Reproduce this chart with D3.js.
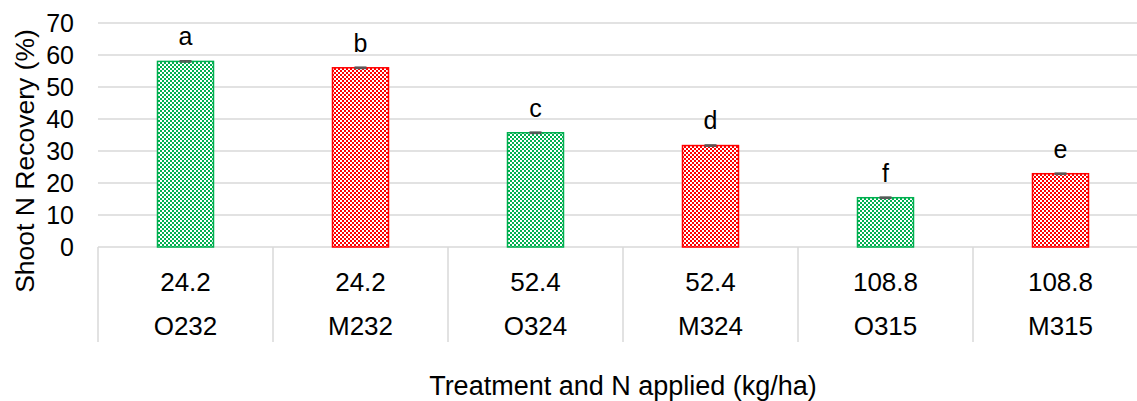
<!DOCTYPE html>
<html><head><meta charset="utf-8">
<script src="https://cdn.jsdelivr.net/npm/d3@7"></script>
<style>html,body{margin:0;padding:0;background:#fff;overflow:hidden}</style>
</head><body>
<script>
const treatments = ["O232","M232","O324","M324","O315","M315"];
const nApplied = ["24.2","24.2","52.4","52.4","108.8","108.8"];
const recovery = [58.0, 56.0, 35.7, 31.7, 15.4, 22.9];
const stdErr = [0.2, 0.2, 0.2, 0.2, 0.2, 0.2];
const letters = ["a","b","c","d","f","e"];
const barColors = ["#00B050","#FF0000","#00B050","#FF0000","#00B050","#FF0000"];
const yTicks = [0,10,20,30,40,50,60,70];

const W = 1137, H = 401;
const mLeft = 98, mRight = 1148, mTop = 23, mBottom = 247;
const svg = d3.select("body").append("svg").attr("width", W).attr("height", H)
  .style("font-family", "'Liberation Sans', Arial, sans-serif");

const defs = svg.append("defs");
["#00B050","#FF0000"].forEach((c,i)=>{
  const p = defs.append("pattern").attr("id","pat"+i).attr("patternUnits","userSpaceOnUse")
    .attr("width",4).attr("height",4);
  p.append("rect").attr("width",4).attr("height",4).attr("fill",c);
  p.append("rect").attr("x",0).attr("y",0).attr("width",2).attr("height",2).attr("fill","#fff");
  p.append("rect").attr("x",2).attr("y",2).attr("width",2).attr("height",2).attr("fill","#fff");
});

const x = d3.scaleBand().domain(treatments).range([mLeft, mRight]).paddingInner(0.68).paddingOuter(0.34);
const xb = d3.scaleBand().domain(treatments).range([mLeft, mRight]);
const y = d3.scaleLinear().domain([0,70]).range([mBottom, mTop]);

// gridlines
svg.append("g").selectAll("line").data(yTicks).join("line")
  .attr("x1", mLeft).attr("x2", W).attr("y1", d=>y(d)).attr("y2", d=>y(d))
  .attr("stroke", "#D9D9D9").attr("stroke-width", 1.5);

// y tick labels
const yAxis = d3.axisLeft(y).tickValues(yTicks).tickSize(0).tickPadding(24);
const ya = svg.append("g").attr("transform", `translate(${mLeft},0)`).call(yAxis);
ya.select(".domain").remove();
ya.selectAll("text").attr("font-size", 25).attr("fill", "#000").attr("font-family","'Liberation Sans', Arial, sans-serif").attr("dy","0.35em");

// category separators
const seps = treatments.map(t=>xb(t)).concat([mRight]);
svg.append("g").selectAll("line").data(seps).join("line")
  .attr("x1", d=>d).attr("x2", d=>d).attr("y1", mBottom).attr("y2", 342)
  .attr("stroke", "#D9D9D9").attr("stroke-width", 1.5);

// bars
svg.append("g").selectAll("rect").data(treatments).join("rect")
  .attr("x", d=>x(d)).attr("width", x.bandwidth())
  .attr("y", (d,i)=>y(recovery[i])).attr("height", (d,i)=>y(0)-y(recovery[i]))
  .attr("fill", (d,i)=>`url(#pat${barColors[i]==="#00B050"?0:1})`)
  .attr("stroke", (d,i)=>barColors[i]).attr("stroke-width", 1.5);

// error bars
const eb = svg.append("g");
treatments.forEach((t,i)=>{
  const cx = x(t) + x.bandwidth()/2;
  eb.append("line").attr("x1", cx).attr("x2", cx).attr("y1", y(recovery[i]+stdErr[i])).attr("y2", y(recovery[i]-stdErr[i]))
    .attr("stroke","#595959").attr("stroke-width",1.5);
  [recovery[i]+stdErr[i], recovery[i]-stdErr[i]].forEach(v=>{
    eb.append("line").attr("x1", cx-6).attr("x2", cx+6).attr("y1", y(v)).attr("y2", y(v))
      .attr("stroke","#595959").attr("stroke-width",1.5);
  });
});

// letters
svg.append("g").selectAll("text").data(treatments).join("text")
  .attr("x", d=>x(d)+x.bandwidth()/2).attr("y", (d,i)=>y(recovery[i]+stdErr[i])-15.5)
  .attr("text-anchor","middle").attr("font-size", 25).attr("fill","#000")
  .text((d,i)=>letters[i]);

// category labels
const cat = svg.append("g");
treatments.forEach((t,i)=>{
  const cx = xb(t) + xb.bandwidth()/2;
  cat.append("text").attr("x", cx).attr("y", 291).attr("text-anchor","middle")
    .attr("font-size", 26).attr("fill","#000").text(nApplied[i]);
  cat.append("text").attr("x", cx).attr("y", 335).attr("text-anchor","middle")
    .attr("font-size", 26).attr("fill","#000").text(t);
});

// axis titles
svg.append("text").attr("x", (mLeft+mRight)/2).attr("y", 395).attr("text-anchor","middle")
  .attr("font-size", 27).attr("fill","#000").text("Treatment and N applied (kg/ha)");
svg.append("text").attr("transform", "translate(34,161) rotate(-90)").attr("text-anchor","middle")
  .attr("font-size", 26.5).attr("fill","#000").text("Shoot N Recovery (%)");
</script>
</body></html>
